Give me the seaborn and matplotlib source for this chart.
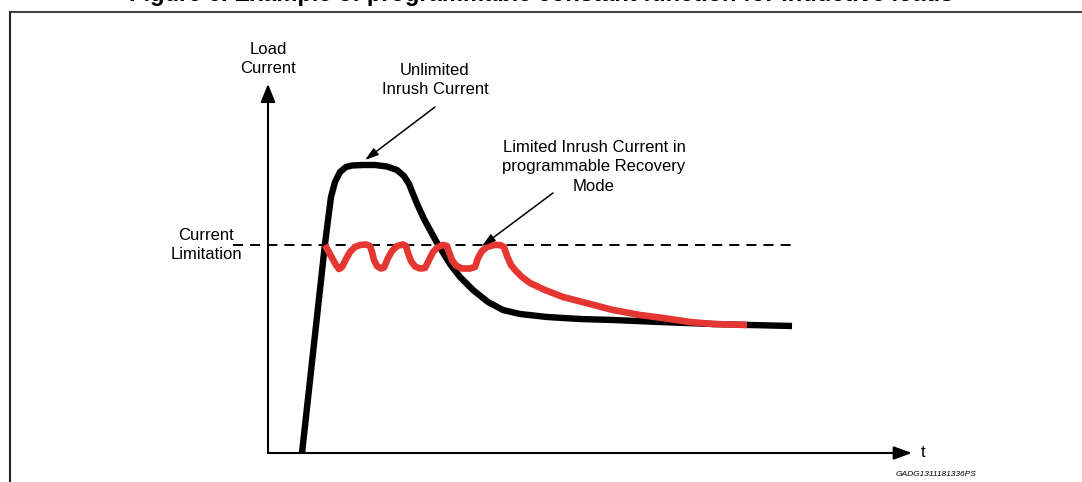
import pandas as pd
import matplotlib.pyplot as plt
import seaborn as sns

sns.set_style("white")
plt.rcParams['font.family'] = ['Liberation Sans', 'DejaVu Sans']
plt.rcParams['text.color'] = 'black'

# chart units: t measured from the vertical axis, current from the time axis
unlimited_t = [34, 57, 60, 63, 67, 72, 78, 84, 95, 107, 119, 129, 136, 141, 145, 150, 156, 162, 168,
               174, 182, 192, 205, 220, 235, 252, 279, 312, 345, 392, 445, 482, 524]
unlimited_i = [0, 209, 233, 256, 271, 281, 286, 287.5, 288, 288, 286.5, 283, 277, 269, 259, 247, 234, 223, 212,
               202, 189, 176, 163, 151, 143, 139, 136, 134, 133, 131, 129, 128, 127]

limited_t = [57, 63, 68, 71, 74, 78, 82, 87, 92, 98, 102,
             104, 106, 109, 113, 116,
             120, 124, 129, 135, 138,
             140, 143, 147, 152, 157,
             161, 165, 170, 175, 179,
             181, 184, 188, 194, 202, 207,
             210, 214, 219, 226, 232, 236,
             239, 243, 248, 254, 262, 277, 295, 322, 345, 372, 395, 422, 445, 479]
limited_i = [208, 197, 188, 184, 186, 194, 201, 206, 208, 208.5, 207,
             201, 193, 187, 184.5, 185.5,
             195, 202, 207, 208.5, 207,
             200, 192, 186.5, 184.5, 185,
             193, 201, 206, 208, 207,
             201, 193, 187.5, 184.5, 184.5, 186,
             195, 202, 206, 208, 208, 206,
             197, 188, 182, 176, 170, 163, 156, 149, 143, 138, 135, 131, 129, 128]

current_limit = 208
limit_start, limit_end = -35, 524

df_unl = pd.DataFrame({"t": unlimited_t, "I": unlimited_i})
df_lim = pd.DataFrame({"t": limited_t, "I": limited_i})

fig = plt.figure(figsize=(10.82, 4.82), dpi=100)
ax = fig.add_axes([0, 0, 1, 1])
ax.set_xlim(-268, 814)
ax.set_ylim(-29, 453)
ax.axis('off')

# frame around the figure area
ax.plot([-258, 814], [441, 441], color='#444444', lw=1.5, clip_on=False)
ax.plot([-258, -258], [441, -29], color='#222222', lw=1.5, clip_on=False)

# axes with arrow heads
ax.annotate('', xy=(0, 369), xytext=(0, 0),
            arrowprops=dict(arrowstyle='-|>,head_length=1.1,head_width=0.45', color='black', lw=1.5,
                            shrinkA=0, shrinkB=0))
ax.annotate('', xy=(644, 0), xytext=(0, 0),
            arrowprops=dict(arrowstyle='-|>,head_length=1.1,head_width=0.4', color='black', lw=1.5,
                            shrinkA=0, shrinkB=0))

ax.plot([limit_start, limit_end], [current_limit, current_limit], color='black', lw=1.4,
        linestyle=(0, (5.2, 3.6)))

sns.lineplot(data=df_unl, x="t", y="I", sort=False, estimator=None, color='black', lw=4.6, ax=ax,
             solid_joinstyle='round', solid_capstyle='butt')
sns.lineplot(data=df_lim, x="t", y="I", sort=False, estimator=None, color='#e63631', lw=4.8, ax=ax,
             solid_joinstyle='round', solid_capstyle='butt')

fs = 12
ls = 1.38
ax.text(0, 394, "Load\nCurrent", ha='center', va='center', fontsize=fs, linespacing=ls)
ax.text(-62, 208, "Current\nLimitation", ha='center', va='center', fontsize=fs, linespacing=ls)
ax.text(167, 373, "Unlimited\nInrush Current", ha='center', va='center', fontsize=fs, linespacing=ls)
ax.text(326, 286, "Limited Inrush Current in\nprogrammable Recovery\nMode", ha='center', va='center',
        fontsize=fs, linespacing=ls)
ax.text(653, 0.5, "t", ha='left', va='center', fontsize=fs)
ax.text(668, -22, "GADG1311181336PS", ha='center', va='center', fontsize=6, style='italic')

ax.annotate('', xy=(97, 293), xytext=(167, 346),
            arrowprops=dict(arrowstyle='-|>,head_length=0.8,head_width=0.25', color='black', lw=1.1,
                            shrinkA=0, shrinkB=0))
ax.annotate('', xy=(214, 207), xytext=(285, 260),
            arrowprops=dict(arrowstyle='-|>,head_length=0.8,head_width=0.25', color='black', lw=1.1,
                            shrinkA=0, shrinkB=0))

fig.text(0.5, 1 - 1.5 / 482, "Figure 6. Example of programmable constant function for inductive loads",
         ha='center', va='baseline', fontsize=17, fontweight='bold')

fig.savefig("out.png", dpi=100)
